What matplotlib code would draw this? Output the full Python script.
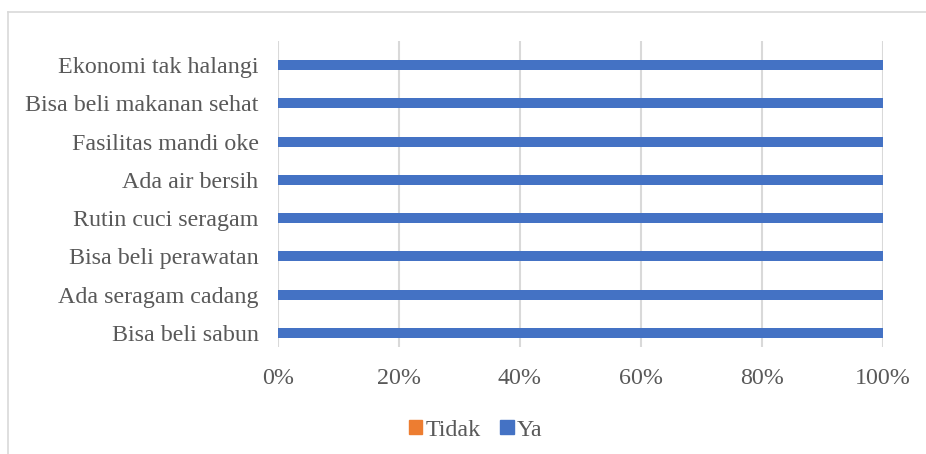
import matplotlib.pyplot as plt
from matplotlib.lines import Line2D
from matplotlib.patches import Patch

plt.rcParams['font.family'] = ['Liberation Serif', 'DejaVu Serif']

# data
categories = ['Bisa beli sabun', 'Ada seragam cadang', 'Bisa beli perawatan',
              'Rutin cuci seragam', 'Ada air bersih', 'Fasilitas mandi oke',
              'Bisa beli makanan sehat', 'Ekonomi tak halangi']
tidak = [0, 0, 0, 0, 0, 0, 0, 0]
ya = [100, 100, 100, 100, 100, 100, 100, 100]
xticks = [0, 20, 40, 60, 80, 100]

c_tidak = '#ED7D31'
c_ya = '#4472C4'
txt = '#595959'
grid = '#D9D9D9'

fig = plt.figure(figsize=(9.26, 4.54), dpi=100)
ax = fig.add_axes([278 / 926, 1 - 347 / 454, 605 / 926, 306 / 454])

y = range(len(categories))
ax.barh(y, tidak, height=0.26, color=c_tidak, label='Tidak')
ax.barh(y, ya, left=tidak, height=0.26, color=c_ya, label='Ya')

ax.set_xlim(0, 100)
ax.set_ylim(-0.37, len(categories) - 0.37)
ax.set_yticks(list(y))
ax.set_yticklabels(categories, fontsize=17.3, color=txt)
ax.set_xticks(xticks)
ax.set_xticklabels([f'{v}%' for v in xticks], fontsize=17.3, color=txt)
ax.tick_params(axis='both', length=0)
ax.tick_params(axis='y', pad=14)
ax.tick_params(axis='x', pad=15)
ax.xaxis.grid(True, color=grid, linewidth=1.5)
ax.set_axisbelow(True)
for s in ax.spines.values():
    s.set_visible(False)

# legend
handles = [Patch(color=c_tidak), Patch(color=c_ya)]
fig.legend(handles, ['Tidak', 'Ya'], loc='center', ncol=2,
           bbox_to_anchor=(476 / 926, 1 - 430 / 454), frameon=False,
           fontsize=17.3, labelcolor=txt, handlelength=0.55, handleheight=0.55,
           handletextpad=0.15, columnspacing=0.8)

# chart border
fig.add_artist(Line2D([7.5 / 926, 7.5 / 926], [0, 1 - 11.5 / 454],
                      color=grid, linewidth=1.2, transform=fig.transFigure))
fig.add_artist(Line2D([7.5 / 926, 1], [1 - 11.5 / 454, 1 - 11.5 / 454],
                      color=grid, linewidth=1.2, transform=fig.transFigure))

plt.savefig('out.png', dpi=100)
plt.close()
